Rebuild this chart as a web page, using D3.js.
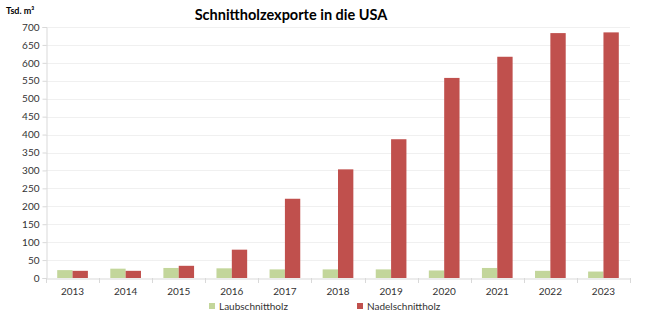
<!DOCTYPE html>
<html><head><meta charset="utf-8">
<script src="https://cdn.jsdelivr.net/npm/d3@7"></script>
<style>body{margin:0;background:#fff}svg{display:block}</style>
</head><body>
<script>
const years = ["2013","2014","2015","2016","2017","2018","2019","2020","2021","2022","2023"];
const laub = [22,26,28,27,24,24,24,21,28,20,18];
const nadel = [20,20,34,79,221,303,387,558,617,683,685];
const seriesNames = ["Laubschnittholz","Nadelschnittholz"];
const colors = ["#c3d69b","#c0504d"];
const yTicks = [0,50,100,150,200,250,300,350,400,450,500,550,600,650,700];

const W=646,H=323;
const m={l:46,r:16,t:27,b:45};
const svg=d3.select("body").append("svg").attr("width",W).attr("height",H);
const font="Lato, 'Open Sans', sans-serif";

const x=d3.scaleBand().domain(years).range([m.l,W-m.r]);
const xi=d3.scaleBand().domain([0,1]).range([0,x.bandwidth()]).paddingOuter(0.73).paddingInner(0);
const y=d3.scaleLinear().domain([0,700]).range([H-m.b,m.t]);

// gridlines
svg.append("g").selectAll("line").data(yTicks.slice(1)).join("line")
 .attr("x1",m.l).attr("x2",W-m.r).attr("y1",d=>Math.round(y(d))+0.5).attr("y2",d=>Math.round(y(d))+0.5)
 .attr("stroke","#f0f0f0").attr("stroke-width",1);

// bars
const data=[laub,nadel];
const g=svg.append("g");
years.forEach((yr,i)=>{
  data.forEach((s,j)=>{
    g.append("rect").attr("x",x(yr)+xi(j)).attr("width",xi.bandwidth())
     .attr("y",y(s[i])).attr("height",y(0)-y(s[i])).attr("fill",colors[j]);
  });
});

// y axis
const ya=svg.append("g").attr("transform",`translate(${m.l+0.5},0)`)
 .call(d3.axisLeft(y).tickValues(yTicks).tickSize(4).tickPadding(3));
ya.select(".domain").attr("stroke","#d9d9d9");
ya.selectAll(".tick line").attr("stroke","#d9d9d9");
ya.selectAll("text").attr("font-family",font).attr("font-size",10).attr("fill","#333");

// x axis
const xa=svg.append("g").attr("transform",`translate(0,${Math.round(y(0))+0.5})`)
 .call(d3.axisBottom(x).tickSize(0).tickPadding(9));
xa.select(".domain").attr("stroke","#d9d9d9");
xa.selectAll("text").attr("font-family",font).attr("font-size",10).attr("fill","#333");
// category boundary ticks
svg.append("g").selectAll("line").data(years.concat(["end"])).join("line")
 .attr("x1",(d,i)=>Math.round(m.l+i*x.step())+0.5).attr("x2",(d,i)=>Math.round(m.l+i*x.step())+0.5)
 .attr("y1",Math.round(y(0))).attr("y2",Math.round(y(0))+5).attr("stroke","#d9d9d9");

// title
svg.append("text").attr("x",291).attr("y",20).attr("text-anchor","middle")
 .attr("font-family",font).attr("font-weight","bold").attr("font-size",14.5).attr("fill","#000")
 .text("Schnittholzexporte in die USA");
svg.append("text").attr("x",6).attr("y",14)
 .attr("font-family",font).attr("font-weight","bold").attr("font-size",9).attr("fill","#000")
 .text("Tsd. m³");

// legend
const lx=[209,357];
seriesNames.forEach((n,j)=>{
  svg.append("rect").attr("x",lx[j]).attr("y",303).attr("width",6).attr("height",6).attr("fill",colors[j]);
  svg.append("text").attr("x",lx[j]+10).attr("y",310).attr("font-family",font).attr("font-size",10).attr("fill","#333").text(n);
});
</script>
</body></html>
